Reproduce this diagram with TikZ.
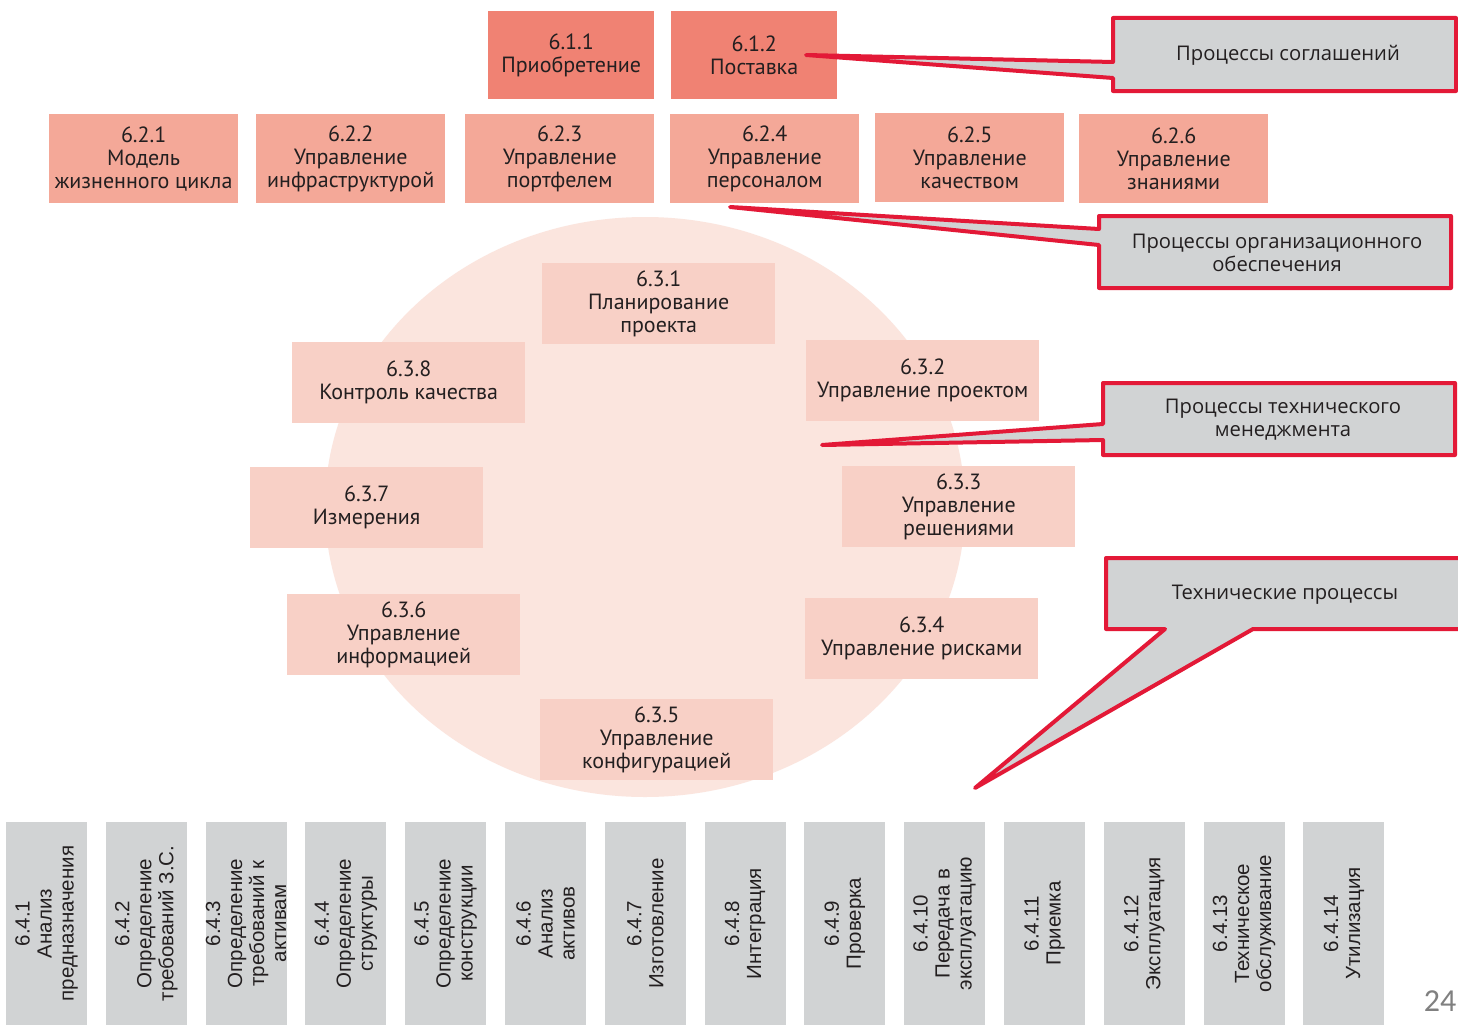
\documentclass[tikz,border=0pt]{standalone}
\usepackage{fontspec}
\setmainfont{PT Sans}
\newfontfamily\calloutfont{Open Sans}
\newfontfamily\techfont{Liberation Sans}
\newfontfamily\pagefont{Carlito}

\definecolor{agreefill}{HTML}{F08273}
\definecolor{orgfill}{HTML}{F4A898}
\definecolor{projfill}{HTML}{F8D0C6}
\definecolor{ringfill}{HTML}{FBE5DE}
\definecolor{techfill}{HTML}{D1D3D4}
\definecolor{callred}{HTML}{E31937}
\definecolor{inktext}{HTML}{231F20}

\tikzset{
  procbox/.style={anchor=north west, inner sep=0pt, align=center, text=inktext,
    font=\fontsize{22}{23}\selectfont},
  agreebox/.style={procbox, fill=agreefill, minimum width=166, minimum height=88},
  orgbox/.style={procbox, fill=orgfill, minimum width=189, minimum height=89},
  projbox/.style={procbox, fill=projfill, minimum width=233, minimum height=81},
  techbox/.style={rotate=90, inner sep=0pt, align=center, fill=techfill, text=inktext,
    minimum width=203, minimum height=81, font=\techfont\fontsize{20.5}{22}\selectfont},
  callshape/.style={fill=techfill, draw=callred, line width=4pt, line join=round},
  calltext/.style={inner sep=0pt, align=center, text=inktext,
    font=\calloutfont\fontsize{20.2}{23}\selectfont}
}

\begin{document}
\begin{tikzpicture}[x=1pt,y=-1pt]
\useasboundingbox (0,0) rectangle (1458,1025);
\fill[white] (0,0) rectangle (1458,1025);

% project-process ring
\fill[ringfill] (645,507) ellipse [x radius=320, y radius=290];

% 6.1 agreement processes
\node[agreebox] (p611) at (488,11) {6.1.1\\Приобретение};
\node[agreebox] (p612) at (671,11) {6.1.2\\Поставка};

% 6.2 organizational project-enabling processes
\node[orgbox] (p621) at (49,114)   {6.2.1\\Модель\\жизненного цикла};
\node[orgbox] (p622) at (256,114)  {6.2.2\\Управление\\инфраструктурой};
\node[orgbox] (p623) at (465,114)  {6.2.3\\Управление\\портфелем};
\node[orgbox] (p624) at (670,114)  {6.2.4\\Управление\\персоналом};
\node[orgbox] (p625) at (875,113)  {6.2.5\\Управление\\качеством};
\node[orgbox] (p626) at (1079,114) {6.2.6\\Управление\\знаниями};

% 6.3 technical management processes
\node[projbox] (p631) at (542,263) {6.3.1\\Планирование\\проекта};
\node[projbox] (p632) at (806,340) {6.3.2\\Управление проектом};
\node[projbox] (p633) at (842,466) {6.3.3\\Управление\\решениями};
\node[projbox] (p634) at (805,598) {6.3.4\\Управление рисками};
\node[projbox] (p635) at (540,699) {6.3.5\\Управление\\конфигурацией};
\node[projbox] (p636) at (287,594) {6.3.6\\Управление\\информацией};
\node[projbox] (p637) at (250,467) {6.3.7\\Измерения};
\node[projbox] (p638) at (292,342) {6.3.8\\Контроль качества};

% 6.4 technical processes
\foreach \i/\txt in {
  1/{6.4.1\\Анализ\\предназначения},
  2/{6.4.2\\Определение\\требований З.С.},
  3/{6.4.3\\Определение\\требований к\\активам},
  4/{6.4.4\\Определение\\структуры},
  5/{6.4.5\\Определение\\конструкции},
  6/{6.4.6\\Анализ\\активов},
  7/{6.4.7\\Изготовление},
  8/{6.4.8\\Интеграция},
  9/{6.4.9\\Проверка},
  10/{6.4.10\\Передача в\\эксплуатацию},
  11/{6.4.11\\Приемка},
  12/{6.4.12\\Эксплуатация},
  13/{6.4.13\\Техническое\\обслуживание},
  14/{6.4.14\\Утилизация}} {
  \node[techbox] (t\i) at ({46.5+99.8*(\i-1)},923.5) {\txt};
}

% callout: agreement processes
\coordinate (a1nw) at (1113,18);  \coordinate (a1se) at (1456,91);
\coordinate (a1hi) at (1113,62);  \coordinate (a1lo) at (1113,78);
\coordinate (a1tip) at (806,55);
\draw[callshape] (a1nw) -- (a1nw -| a1se) -- (a1se) -- (a1se -| a1nw)
  -- (a1lo) -- (a1tip) -- (a1hi) -- cycle;
\node[calltext] (cagree) at (1288,55) {Процессы соглашений};

% callout: organizational processes
\coordinate (a2nw) at (1099,216); \coordinate (a2se) at (1451,288);
\coordinate (a2hi) at (1099,229); \coordinate (a2lo) at (1099,245);
\coordinate (a2tip) at (730,207);
\draw[callshape] (a2nw) -- (a2nw -| a2se) -- (a2se) -- (a2se -| a2nw)
  -- (a2lo) -- (a2tip) -- (a2hi) -- cycle;
\node[calltext] (corg) at (1277,253) {Процессы организационного\\обеспечения};

% callout: technical management processes
\coordinate (a3nw) at (1103,383); \coordinate (a3se) at (1455,455);
\coordinate (a3hi) at (1103,424); \coordinate (a3lo) at (1103,440);
\coordinate (a3tip) at (822,445);
\draw[callshape] (a3nw) -- (a3nw -| a3se) -- (a3se) -- (a3se -| a3nw)
  -- (a3lo) -- (a3tip) -- (a3hi) -- cycle;
\node[calltext] (cmgmt) at (1283,420) {Процессы технического\\менеджмента};

% callout: technical processes
\coordinate (a4nw) at (1106,558); \coordinate (a4se) at (1460,629);
\coordinate (a4l) at (1165,629);  \coordinate (a4r) at (1253,629);
\coordinate (a4tip) at (975,788);
\draw[callshape] (a4nw) -- (a4nw -| a4se) -- (a4se) -- (a4r) -- (a4tip)
  -- (a4l) -- (a4se -| a4nw) -- cycle;
\node[calltext] (ctech) at (1285,595) {Технические процессы};

% page number
\node[inner sep=0pt, text=black!50, font=\pagefont\fontsize{32}{32}\selectfont]
  (pageno) at (1440,1001) {24};
\end{tikzpicture}
\end{document}
